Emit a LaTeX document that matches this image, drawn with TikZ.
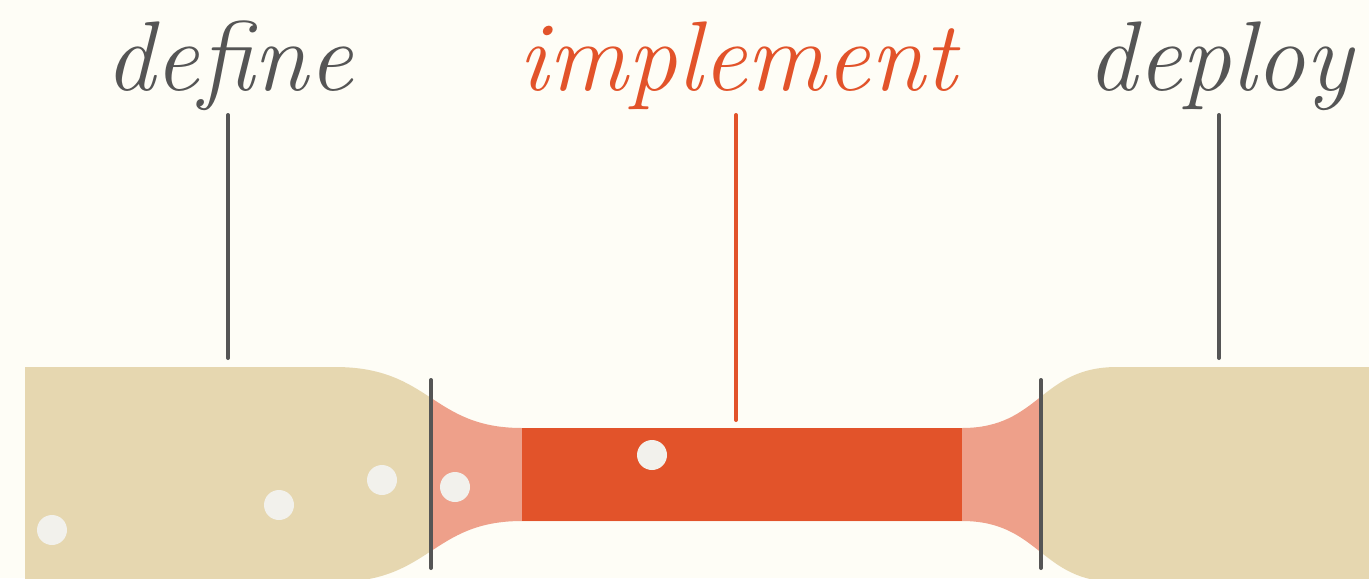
\documentclass[tikz,border=0pt]{standalone}
\definecolor{bg}{HTML}{FEFDF6}
\definecolor{beige}{HTML}{E6D7B0}
\definecolor{salmon}{HTML}{EEA08A}
\definecolor{rust}{HTML}{E2532A}
\definecolor{ink}{HTML}{555555}
\definecolor{dot}{HTML}{F2F1EC}
\tikzset{
  label/.style={anchor=base,inner sep=0pt,font=\fontsize{49.5}{52}\selectfont\itshape},
  stem/.style={line width=2pt,line cap=round,draw=ink},
  bubble/.style={fill=dot,draw=none},
}
\begin{document}
\begin{tikzpicture}[x=0.5pt,y=-0.5pt]
\fill[bg] (0,0) rectangle (1369,578);
\useasboundingbox (0,0) rectangle (1369,578);
\begin{scope}
\clip (25,367) -- (335,367) .. controls (431,367) and (431,428) .. (522,428)
  -- (962,428) .. controls (1040,428) and (1040,367) .. (1117,367)
  -- (1369,367) -- (1369,582) -- (1117,582)
  .. controls (1040,582) and (1040,521) .. (962,521)
  -- (522,521) .. controls (431,521) and (431,582) .. (335,582)
  -- (25,582) -- cycle;
\fill[beige] (0,300) rectangle (431,600);
\fill[beige] (1041,300) rectangle (1369,600);
\fill[salmon] (431,300) rectangle (1041,600);
\end{scope}
\fill[rust] (522,428) rectangle (962,521);
\draw[stem] (431,380) -- (431,568);
\draw[stem] (1041,380) -- (1041,568);
\foreach \p in {(52,530),(279,505),(382,480),(455,487),(652,455)}
  \fill[bubble] \p circle (15);
\node[label,text=ink] (define) at (229,90) {define};
\node[label,text=rust] (implement) at (738,90) {implement};
\node[label,text=ink] (deploy) at (1220,90) {deploy};
\coordinate (d1) at (228,115); \coordinate (d2) at (228,358);
\coordinate (i1) at (736,115); \coordinate (i2) at (736,420);
\coordinate (p1) at (1219,115); \coordinate (p2) at (1219,358);
\draw[stem] (d1) -- (d2);
\draw[stem,draw=rust] (i1) -- (i2);
\draw[stem] (p1) -- (p2);
\end{tikzpicture}
\end{document}
